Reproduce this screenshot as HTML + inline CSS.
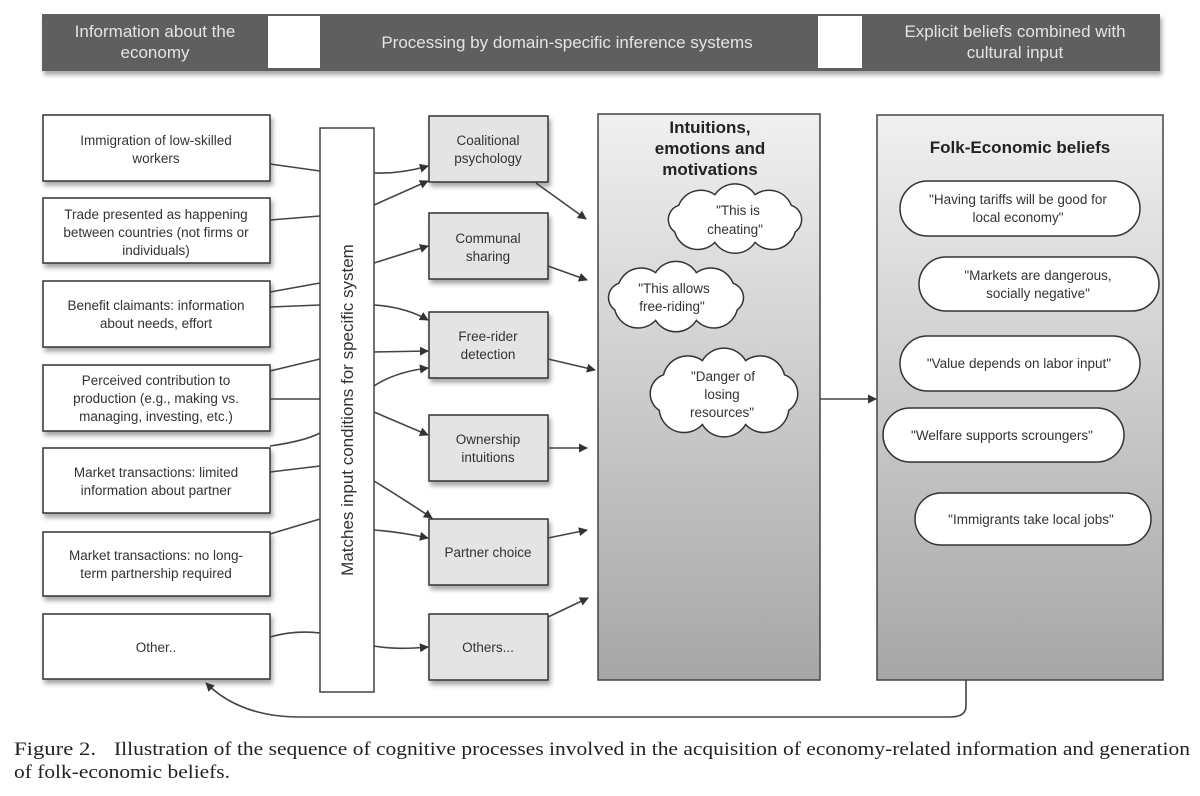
<!DOCTYPE html>
<html><head><meta charset="utf-8"><style>
html,body{margin:0;padding:0;background:#fff;}
svg{display:block;}
text{font-family:"Liberation Sans",sans-serif;}
.bt{font-size:13.5px;fill:#333;text-anchor:middle;}
.ln{fill:none;stroke:#444;stroke-width:1.6;}
</style></head><body>
<svg width="1200" height="796" viewBox="0 0 1200 796" xmlns="http://www.w3.org/2000/svg">
<defs>
<marker id="ah" viewBox="0 0 10 10" refX="9" refY="5" markerWidth="9" markerHeight="9" orient="auto" markerUnits="userSpaceOnUse">
<path d="M0,0 L10,5 L0,10 z" fill="#333"/></marker>
<linearGradient id="pg" x1="0" y1="0" x2="0" y2="1">
<stop offset="0" stop-color="#f0f0f0"/><stop offset="1" stop-color="#a6a6a6"/></linearGradient>
<filter id="sh" x="-10%" y="-10%" width="125%" height="130%"><feDropShadow dx="2" dy="4" stdDeviation="2.5" flood-color="#000" flood-opacity="0.35"/></filter>
</defs>

<rect x="42" y="14" width="1118" height="57" fill="#5e5e5e" filter="url(#sh)"/>
<rect x="268" y="16" width="52" height="52" fill="#fff"/>
<rect x="818" y="16" width="44" height="52" fill="#fff"/>
<text x="155" y="37" font-size="17" fill="#e4e4e4" text-anchor="middle">Information about the</text>
<text x="155" y="58" font-size="17" fill="#e4e4e4" text-anchor="middle">economy</text>
<text x="567" y="48" font-size="17" fill="#e4e4e4" text-anchor="middle">Processing by domain-specific inference systems</text>
<text x="1015" y="37" font-size="17" fill="#e4e4e4" text-anchor="middle">Explicit beliefs combined with</text>
<text x="1015" y="58" font-size="17" fill="#e4e4e4" text-anchor="middle">cultural input</text>

<g fill="#fff" stroke="#333" stroke-width="1.5" filter="url(#sh)">
<rect x="43" y="115" width="227" height="66"/>
<rect x="43" y="198" width="227" height="65"/>
<rect x="43" y="281" width="227" height="66"/>
<rect x="43" y="365" width="227" height="66"/>
<rect x="43" y="448" width="227" height="65"/>
<rect x="43" y="532" width="227" height="64"/>
<rect x="43" y="614" width="227" height="65"/>
</g>
<text class="bt" x="156" y="145">Immigration of low-skilled</text>
<text class="bt" x="156" y="163">workers</text>
<text class="bt" x="156" y="219">Trade presented as happening</text>
<text class="bt" x="156" y="237">between countries (not firms or</text>
<text class="bt" x="156" y="255">individuals)</text>
<text class="bt" x="156" y="310">Benefit claimants: information</text>
<text class="bt" x="156" y="328">about needs, effort</text>
<text class="bt" x="156" y="385">Perceived contribution to</text>
<text class="bt" x="156" y="403">production (e.g., making vs.</text>
<text class="bt" x="156" y="421">managing, investing, etc.)</text>
<text class="bt" x="156" y="477">Market transactions: limited</text>
<text class="bt" x="156" y="495">information about partner</text>
<text class="bt" x="156" y="560">Market transactions: no long-</text>
<text class="bt" x="156" y="578">term partnership required</text>
<text class="bt" x="156" y="652">Other..</text>

<rect x="320" y="128" width="54" height="564" fill="#fff" stroke="#444" stroke-width="1.5"/>
<text x="0" y="0" font-size="17" fill="#333" text-anchor="middle" transform="translate(353,410) rotate(-90)">Matches input conditions for specific system</text>

<path class="ln" d="M270,164 L320,171"/>
<path class="ln" d="M270,220 L320,216"/>
<path class="ln" d="M270,292 L320,283"/>
<path class="ln" d="M270,307 L320,305"/>
<path class="ln" d="M270,371 L320,359"/>
<path class="ln" d="M270,399 L320,399"/>
<path class="ln" d="M270,446 Q305,441 320,433"/>
<path class="ln" d="M270,472 L320,466"/>
<path class="ln" d="M270,534 L320,519"/>
<path class="ln" d="M270,637 Q295,630 320,633"/>

<g fill="#e4e4e4" stroke="#333" stroke-width="1.5" filter="url(#sh)">
<rect x="429" y="116" width="119" height="66"/>
<rect x="429" y="213" width="119" height="66"/>
<rect x="429" y="312" width="119" height="66"/>
<rect x="429" y="415" width="119" height="66"/>
<rect x="429" y="519" width="119" height="66"/>
<rect x="429" y="614" width="119" height="66"/>
</g>
<text class="bt" x="488" y="145" font-size="12.5">Coalitional</text>
<text class="bt" x="488" y="163" font-size="12.5">psychology</text>
<text class="bt" x="488" y="243" font-size="12.5">Communal</text>
<text class="bt" x="488" y="261" font-size="12.5">sharing</text>
<text class="bt" x="488" y="341" font-size="12.5">Free-rider</text>
<text class="bt" x="488" y="359" font-size="12.5">detection</text>
<text class="bt" x="488" y="444" font-size="12.5">Ownership</text>
<text class="bt" x="488" y="462" font-size="12.5">intuitions</text>
<text class="bt" x="488" y="557" font-size="12.5">Partner choice</text>
<text class="bt" x="488" y="652" font-size="12.5">Others...</text>

<g class="ln" marker-end="url(#ah)">
<path d="M374,173 Q400,174 428,166"/>
<path d="M374,205 L428,181"/>
<path d="M374,263 L428,246"/>
<path d="M374,305 Q405,307 428,320"/>
<path d="M374,352 L428,351"/>
<path d="M374,386 Q395,372 428,368"/>
<path d="M374,412 L428,435"/>
<path d="M374,481 Q405,500 432,518"/>
<path d="M374,530 Q400,532 428,538"/>
<path d="M374,646 Q395,650 428,647"/>
</g>

<g class="ln" marker-end="url(#ah)">
<path d="M536,183 L586,219"/>
<path d="M548,266 L587,280"/>
<path d="M548,359 L595,370"/>
<path d="M548,448 L587,448"/>
<path d="M548,538 L587,530"/>
<path d="M548,617 L588,598"/>
</g>

<rect x="598" y="114" width="222" height="566" fill="url(#pg)" stroke="#444" stroke-width="1.5"/>
<rect x="877" y="115" width="286" height="565" fill="url(#pg)" stroke="#444" stroke-width="1.5"/>
<text x="710" y="133" font-size="17" font-weight="bold" fill="#222" text-anchor="middle">Intuitions,</text>
<text x="710" y="154" font-size="17" font-weight="bold" fill="#222" text-anchor="middle">emotions and</text>
<text x="710" y="175" font-size="17" font-weight="bold" fill="#222" text-anchor="middle">motivations</text>
<text x="1020" y="153" font-size="17" font-weight="bold" fill="#222" text-anchor="middle">Folk-Economic beliefs</text>

<path class="ln" d="M820,399 L876,399" marker-end="url(#ah)"/>

<g fill="#fff" stroke="#333" stroke-width="1.5">
<path d="M678.7,205.3 A24,24 0 0 1 714.9,194.7 A24,24 0 0 1 755.1,194.7 A24,24 0 0 1 791.3,205.3 A15,15 0 0 1 795.3,231.8 A24,24 0 0 1 755.1,242.4 A24,24 0 0 1 714.9,242.4 A24,24 0 0 1 674.7,231.8 A15,15 0 0 1 678.7,205.3 Z"/>
<path d="M618.9,283.3 A24,24 0 0 1 655.6,272.7 A24,24 0 0 1 696.4,272.7 A24,24 0 0 1 733.1,283.3 A15,15 0 0 1 737.2,309.8 A24,24 0 0 1 696.4,320.4 A24,24 0 0 1 655.6,320.4 A24,24 0 0 1 614.8,309.8 A15,15 0 0 1 618.9,283.3 Z"/>
<path d="M663.5,374.8 A25,25 0 0 1 702.4,360.6 A25,25 0 0 1 745.6,360.6 A25,25 0 0 1 784.5,374.8 A20,20 0 0 1 788.8,410.3 A25,25 0 0 1 745.6,424.5 A25,25 0 0 1 702.4,424.5 A25,25 0 0 1 659.2,410.3 A20,20 0 0 1 663.5,374.8 Z"/>
</g>
<text class="bt" x="738" y="215" font-size="13">"This is</text>
<text class="bt" x="735" y="234" font-size="13">cheating"</text>
<text class="bt" x="674" y="293" font-size="13">"This allows</text>
<text class="bt" x="672" y="311" font-size="13">free-riding"</text>
<text class="bt" x="723" y="381" font-size="13">"Danger of</text>
<text class="bt" x="722" y="399" font-size="13">losing</text>
<text class="bt" x="722" y="417" font-size="13">resources"</text>

<g fill="#fff" stroke="#333" stroke-width="1.5">
<rect x="900" y="181" width="240" height="55" rx="27.5"/>
<rect x="919" y="257" width="240" height="54" rx="27"/>
<rect x="900" y="336" width="240" height="55" rx="27.5"/>
<rect x="883" y="408" width="241" height="54" rx="27"/>
<rect x="915" y="493" width="236" height="52" rx="26"/>
</g>
<text class="bt" x="1018" y="204">"Having tariffs will be good for</text>
<text class="bt" x="1018" y="222">local economy"</text>
<text class="bt" x="1038" y="280">"Markets are dangerous,</text>
<text class="bt" x="1038" y="298">socially negative"</text>
<text class="bt" x="1019" y="368">"Value depends on labor input"</text>
<text class="bt" x="1002" y="440">"Welfare supports scroungers"</text>
<text class="bt" x="1031" y="524">"Immigrants take local jobs"</text>

<path class="ln" d="M966,680 L966,706 Q966,717 950,717 L300,717 Q240,717 206,683" marker-end="url(#ah)"/>

<text x="14" y="755" font-size="19" fill="#222" textLength="82" lengthAdjust="spacingAndGlyphs" style="font-family:'Liberation Serif',serif">Figure 2.</text>
<text x="114" y="755" font-size="19" fill="#222" textLength="1076" lengthAdjust="spacingAndGlyphs" style="font-family:'Liberation Serif',serif">Illustration of the sequence of cognitive processes involved in the acquisition of economy-related information and generation</text>
<text x="14" y="778" font-size="19" fill="#222" textLength="216" lengthAdjust="spacingAndGlyphs" style="font-family:'Liberation Serif',serif">of folk-economic beliefs.</text>
</svg>
</body></html>
